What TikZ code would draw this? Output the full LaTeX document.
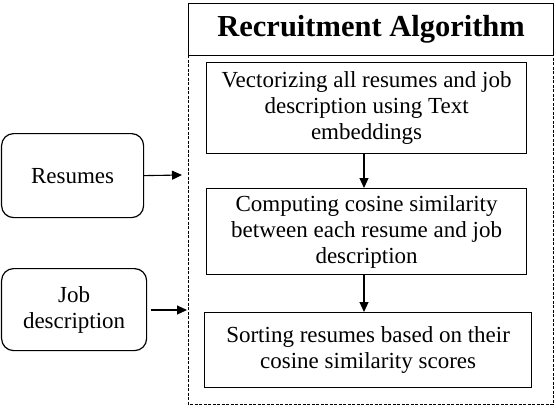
\documentclass[tikz,border=0pt]{standalone}
\usepackage{fontspec}
\setmainfont{Liberation Serif}
\usetikzlibrary{arrows.meta,calc}
\begin{document}
\begin{tikzpicture}[x=1pt,y=-1pt,
  txt/.style={font=\fontsize{23}{26}\selectfont, align=center},
  inbox/.style={draw, line width=1.2pt, rounded corners=12pt, inner sep=0pt, txt},
  arr/.style={-{Triangle[length=10pt,width=9pt]}, line width=1.1pt},
  frameline/.style={line width=1pt, dash pattern=on 3pt off 1.5pt}]
\useasboundingbox (0,0) rectangle (556,408);
% outer frame
\draw[frameline] (188,55) -- (188,404) -- (553,404) -- (553,55);
\node[draw, line width=1.2pt, minimum width=365pt, minimum height=52pt, inner sep=0pt,
  font=\fontsize{30.5}{34}\bfseries\selectfont, anchor=north west] (title) at (188,3) {Recruitment Algorithm};
% steps
\node[draw, line width=1.2pt, minimum width=320pt, minimum height=91pt, inner sep=0pt, txt, anchor=north west] (s1) at (206,62)
  {Vectorizing all resumes and job\\description using Text\\embeddings};
\node[draw, line width=1.2pt, minimum width=320pt, minimum height=86pt, inner sep=0pt, txt, anchor=north west] (s2) at (206,188)
  {Computing cosine similarity\\between each resume and job\\description};
\node[draw, line width=1.2pt, minimum width=327pt, minimum height=75pt, inner sep=0pt, txt, anchor=north west] (s3) at (204,312)
  {Sorting resumes based on their\\cosine similarity scores};
\draw[arr] (s1.south -| 364,0) -- (s2.north -| 364,0);
\draw[arr] (s2.south -| 364,0) -- (s3.north -| 364,0);
% inputs
\node[inbox, minimum width=142pt, minimum height=84pt, anchor=north west] (res) at (1,133) {Resumes};
\node[inbox, minimum width=145pt, minimum height=82pt, anchor=north west] (job) at (1,268) {Job\\description};
\coordinate (r1) at (182,175);
\coordinate (j1) at (187,310);
\draw[arr] (res.east) -- (r1);
\draw[arr] (job.east |- j1) ++(4,0) -- (j1);
\end{tikzpicture}
\end{document}
